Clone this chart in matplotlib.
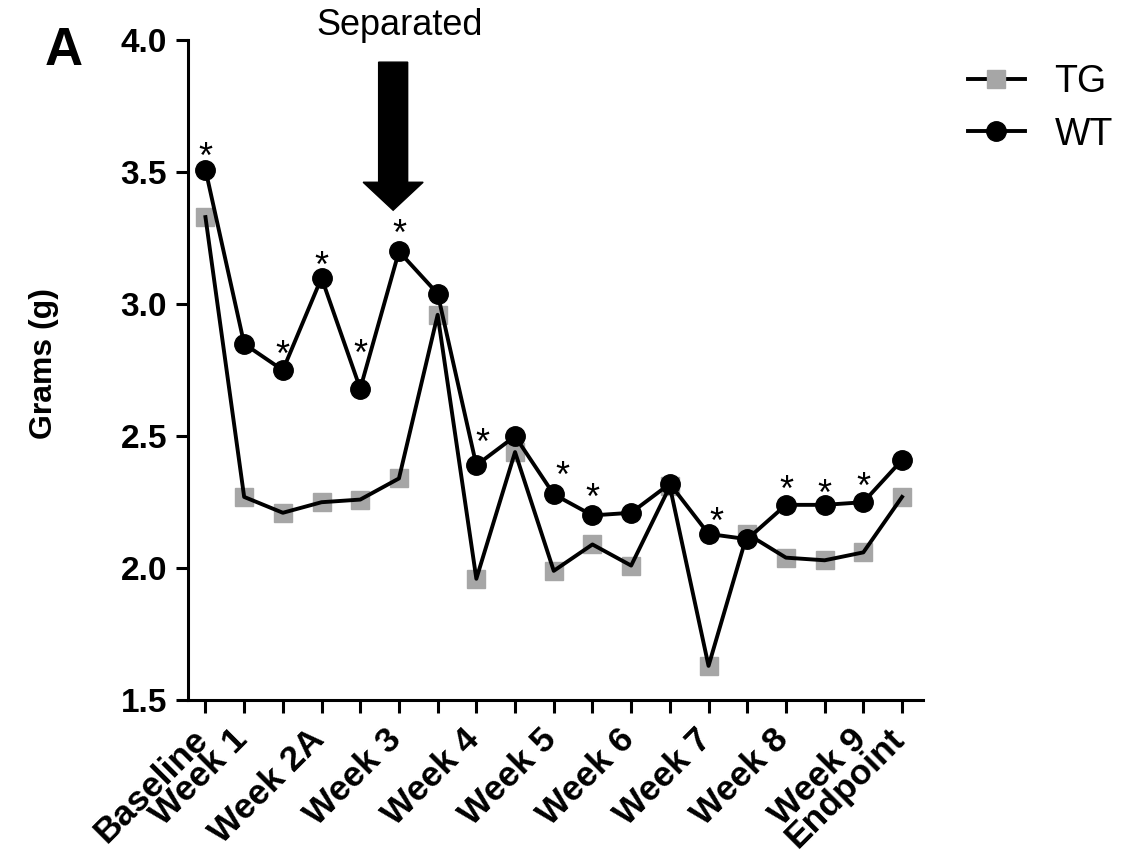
import matplotlib.pyplot as plt
import numpy as np
from matplotlib.lines import Line2D
from matplotlib.patches import FancyArrow
from matplotlib.transforms import ScaledTranslation, blended_transform_factory

plt.rcParams['font.family'] = ['Liberation Sans', 'DejaVu Sans']

tick_labels = ['Baseline', 'Week 1', '', 'Week 2A', '', 'Week 3', '', 'Week 4', '',
               'Week 5', '', 'Week 6', '', 'Week 7', '', 'Week 8', '', 'Week 9', 'Endpoint']
wt = [3.51, 2.85, 2.75, 3.10, 2.68, 3.20, 3.04, 2.39, 2.50, 2.28,
      2.20, 2.21, 2.32, 2.13, 2.11, 2.24, 2.24, 2.25, 2.41]
tg = [3.33, 2.27, 2.21, 2.25, 2.26, 2.34, 2.96, 1.96, 2.44, 1.99,
      2.09, 2.01, 2.31, 1.63, 2.13, 2.04, 2.03, 2.06, 2.27]
signif = [0, 2, 3, 4, 5, 7, 9, 10, 13, 15, 16, 17]

x = np.arange(len(wt))
grey = '#a6a6a6'

fig = plt.figure(figsize=(11.26, 8.56), dpi=100)
ax = fig.add_axes([0.167, 0.182, 0.653, 0.771])

# TG: grey squares under a black line
ax.plot(x, tg, 's', color=grey, markersize=13, zorder=2)
ax.plot(x, tg, '-', color='black', lw=2.8, zorder=3)
ax.plot(x, wt, '-o', color='black', lw=2.8, markersize=14, zorder=4)

# star placement above each WT point (pixels), nudged off the lines like in the figure
star_dy = {0: 22, 2: 25, 3: 21, 4: 44, 5: 27, 7: 32, 9: 28, 10: 27, 13: 22, 15: 25, 16: 21, 17: 25}
star_dx = {7: 6, 9: 9, 13: 8}
for i in signif:
    dy = 1 + (star_dy[i] - 22) * 0.72
    dx = star_dx.get(i, 0) * 0.72
    ax.annotate('*', (x[i], wt[i]), xytext=(dx, dy), textcoords='offset points',
                ha='center', va='baseline', fontsize=26)

ax.set_xlim(-0.45, 18.55)
ax.set_ylim(1.5, 4.0)
ax.set_yticks([1.5, 2.0, 2.5, 3.0, 3.5, 4.0])
ax.set_yticklabels(['1.5', '2.0', '2.5', '3.0', '3.5', '4.0'], fontsize=24, fontweight='bold')
ax.set_xticks(x)
ax.set_xticklabels([])

# x labels drawn by hand so they can sit a bit lower/left of the tick like the original
trans = blended_transform_factory(ax.transData, ax.transAxes) + \
    ScaledTranslation(-0.14, -0.22, fig.dpi_scale_trans)
for xi, lab in zip(x, tick_labels):
    ax.text(xi, 0, lab, transform=trans, rotation=45, rotation_mode='anchor',
            ha='right', va='top', fontsize=25.5, fontweight='bold')

ax.set_ylabel('Grams (g)', fontsize=23, fontweight='bold')
ax.yaxis.set_label_coords(-0.175, 0.51)

for s in ['top', 'right']:
    ax.spines[s].set_visible(False)
for s in ['left', 'bottom']:
    ax.spines[s].set_linewidth(2.2)
ax.tick_params(width=2.2, length=9, pad=6)

# arrow marking separation
ax.add_patch(FancyArrow(4.85, 3.917, 0, 3.356 - 3.917, width=0.75, head_width=1.55,
                        head_length=0.106, length_includes_head=True,
                        color='black', zorder=5))
fig.text(0.355, 0.97, 'Separated', fontsize=26, ha='center', va='center')
fig.text(0.04, 0.94, 'A', fontsize=38, fontweight='bold', ha='left', va='center')

handles = [Line2D([], [], color='black', lw=2.8, marker='s', markersize=13,
                  markerfacecolor=grey, markeredgecolor=grey),
           Line2D([], [], color='black', lw=2.8, marker='o', markersize=14)]
fig.legend(handles, ['TG', 'WT'], loc='upper left', bbox_to_anchor=(0.830, 0.965),
           frameon=False, fontsize=27, handlelength=1.5, labelspacing=0.45, handletextpad=0.8)

fig.savefig('out.png', dpi=100)
